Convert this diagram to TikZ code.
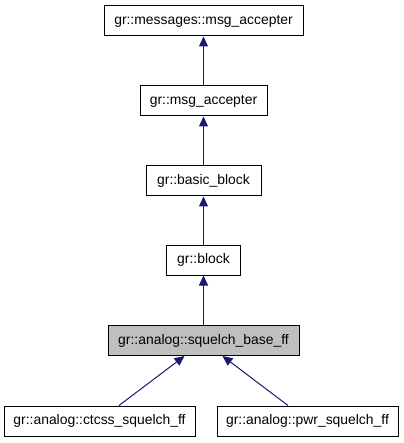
\documentclass[tikz,border=0pt]{standalone}
\usepackage{fontspec}
\setmainfont{Liberation Sans}
\usetikzlibrary{arrows.meta}
\definecolor{edgeblue}{HTML}{191970}
\definecolor{basegray}{HTML}{BFBFBF}

\begin{document}
\begin{tikzpicture}[x=1pt,y=-1pt,
  cls/.style={draw=black,line width=1pt,fill=white,minimum height=30pt,inner sep=0pt,
    font=\fontsize{13.9}{16}\selectfont},
  inherit/.style={draw=edgeblue,line width=1pt,-{Triangle[length=10pt,width=9pt]},shorten >=0pt}]
  \useasboundingbox (0,0) rectangle (403,443);
  \node[cls,minimum width=199pt] (msgs) at (203.5,21) {gr::messages::msg\_accepter};
  \node[cls,minimum width=127pt] (acc) at (203.5,101) {gr::msg\_accepter};
  \node[cls,minimum width=115pt] (basic) at (203.5,181) {gr::basic\_block};
  \node[cls,minimum width=74pt] (blk) at (203.5,260) {gr::block};
  \node[cls,minimum width=191pt,fill=basegray] (base) at (203.5,340.5) {gr::analog::squelch\_base\_ff};
  \node[cls,minimum width=191pt] (ctcss) at (99.5,421) {gr::analog::ctcss\_squelch\_ff};
  \node[cls,minimum width=181pt] (pwr) at (307.5,421) {gr::analog::pwr\_squelch\_ff};
  \draw[inherit] (acc) -- (msgs);
  \draw[inherit] (basic) -- (acc);
  \draw[inherit] (blk) -- (basic);
  \draw[inherit] (base) -- (blk);
  \draw[inherit] ([xshift=19.5pt]ctcss.north) -- ([xshift=-19pt]base.south);
  \draw[inherit] ([xshift=-19.5pt]pwr.north) -- ([xshift=19pt]base.south);
\end{tikzpicture}
\end{document}
